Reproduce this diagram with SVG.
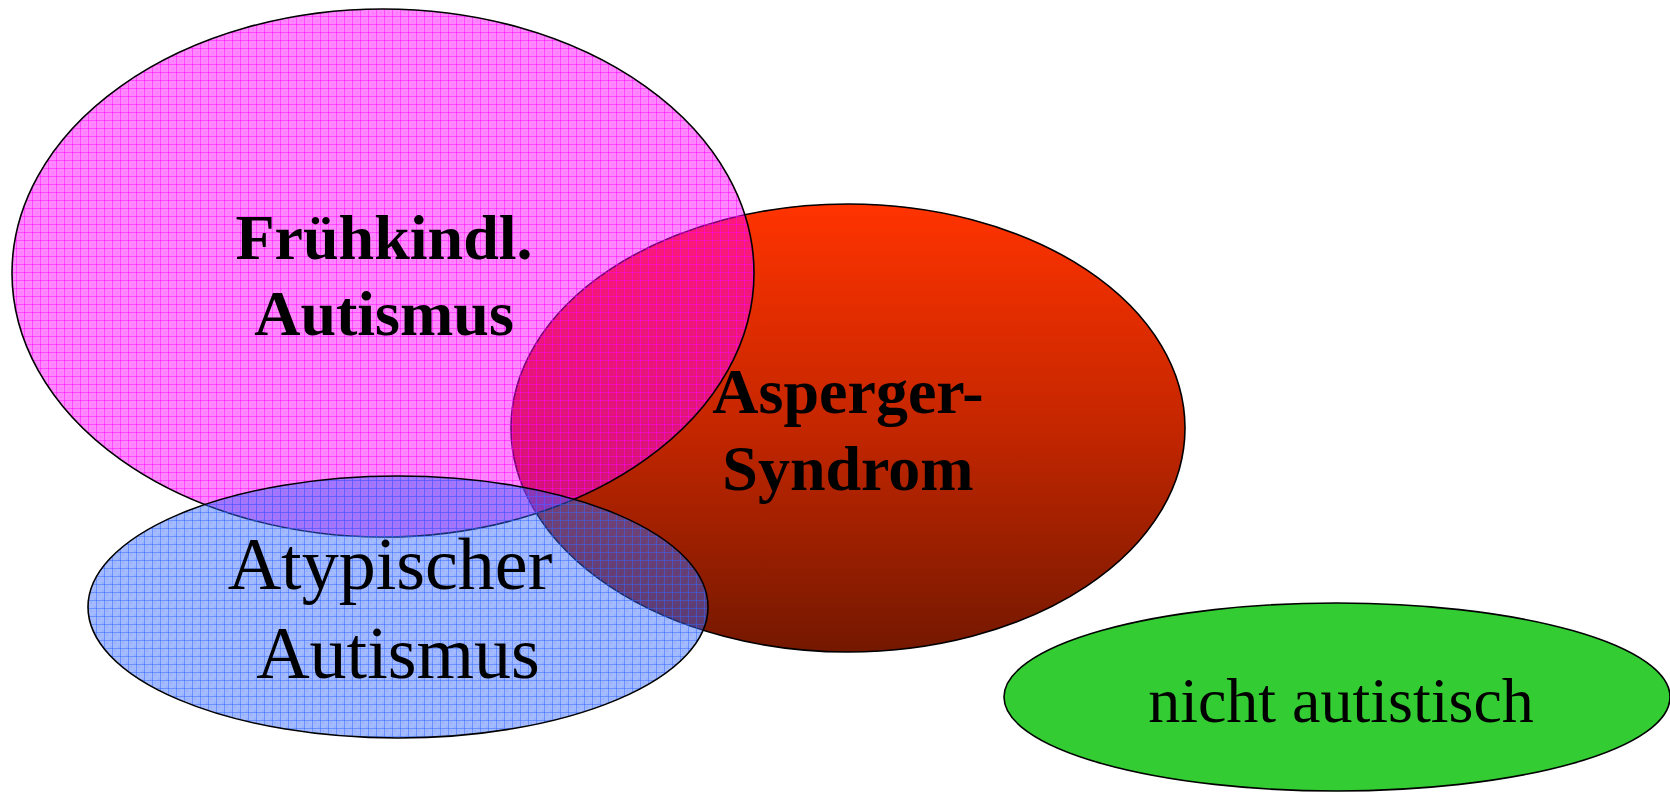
<svg xmlns="http://www.w3.org/2000/svg" width="1670" height="792" viewBox="0 0 1670 792">
  <defs>
    <linearGradient id="redGrad" x1="0" y1="0" x2="0" y2="1">
      <stop offset="0" stop-color="#FF3300"/>
      <stop offset="0.5" stop-color="#C42600"/>
      <stop offset="1" stop-color="#741800"/>
    </linearGradient>
    <pattern id="pinkGrid" patternUnits="userSpaceOnUse" width="8" height="8">
      <rect width="8" height="8" fill="#FF00FF" fill-opacity="0.47"/>
      <rect x="0" y="0" width="2" height="2" fill="#FF00FF" fill-opacity="0.1"/>
      <rect x="4" y="4" width="2" height="2" fill="#FF00FF" fill-opacity="0.1"/>
      <rect x="0" y="0" width="8" height="1" fill="#FF00FF" fill-opacity="0.45"/>
      <rect x="0" y="0" width="1" height="8" fill="#FF00FF" fill-opacity="0.45"/>
    </pattern>
    <pattern id="blueGrid" patternUnits="userSpaceOnUse" width="8" height="8">
      <rect width="8" height="8" fill="#3366FF" fill-opacity="0.45"/>
      <rect x="2" y="2" width="2" height="2" fill="#3366FF" fill-opacity="0.1"/>
      <rect x="6" y="6" width="2" height="2" fill="#3366FF" fill-opacity="0.1"/>
      <rect x="0" y="0" width="8" height="1" fill="#3366FF" fill-opacity="0.5"/>
      <rect x="0" y="0" width="1" height="8" fill="#3366FF" fill-opacity="0.5"/>
    </pattern>
  </defs>
  <style>
    .outline { stroke: #000000; stroke-width: 1.6; }
    .bold { font-family: "Liberation Serif", "Times New Roman", serif; font-weight: bold; font-size: 64px; fill: #000; text-anchor: middle; }
    .reg { font-family: "Liberation Serif", "Times New Roman", serif; font-size: 74px; fill: #000; text-anchor: middle; }
    .green { font-family: "Liberation Serif", "Times New Roman", serif; font-size: 64px; fill: #000; text-anchor: middle; }
  </style>
  <rect width="1670" height="792" fill="#FFFFFF"/>
  <g id="connectors"></g>
  <g id="asperger">
    <ellipse class="outline" cx="848" cy="428" rx="337" ry="224" fill="url(#redGrad)"/>
  </g>
  <g id="fruehkindl">
    <ellipse class="outline" cx="383" cy="273" rx="371" ry="264" fill="url(#pinkGrid)"/>
  </g>
  <g id="atypisch">
    <ellipse class="outline" cx="398" cy="607" rx="310" ry="131" fill="url(#blueGrid)"/>
  </g>
  <g id="nichtautistisch">
    <ellipse class="outline" cx="1337" cy="697" rx="333" ry="94" fill="#33CC33"/>
    <text class="green" x="1341" y="722">nicht autistisch</text>
  </g>
  <g id="labels">
    <text class="bold" x="384" y="259">Frühkindl.</text>
    <text class="bold" x="384" y="335">Autismus</text>
    <text class="bold" x="848" y="413">Asperger-</text>
    <text class="bold" x="848" y="490">Syndrom</text>
    <text class="reg" x="390" y="589">Atypischer</text>
    <text class="reg" x="398" y="678">Autismus</text>
  </g>
</svg>
